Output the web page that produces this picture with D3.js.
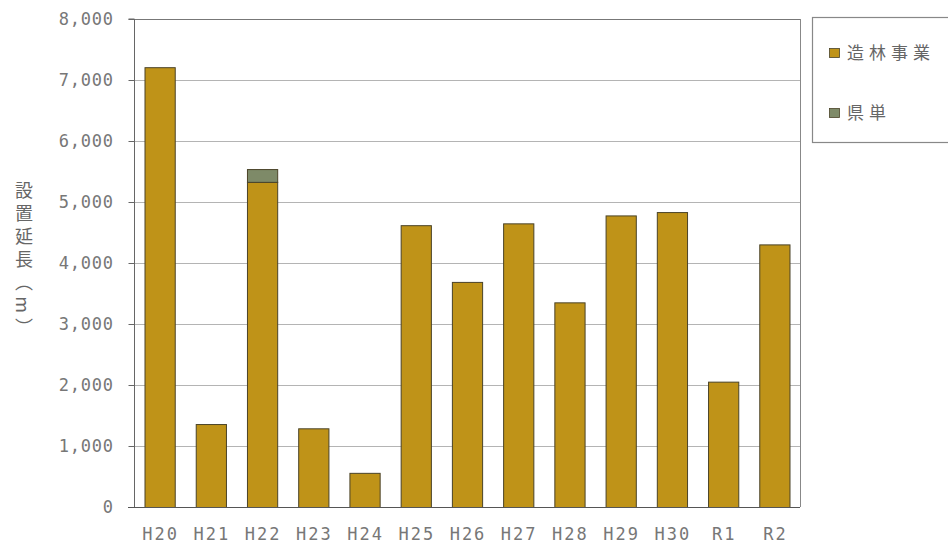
<!DOCTYPE html>
<html>
<head>
<meta charset="utf-8">
<script src="https://cdn.jsdelivr.net/npm/d3@7"></script>
<style>
  html, body { margin: 0; padding: 0; background: #fff; }
  svg { display: block; font-family: "Noto Sans CJK JP", "Noto Sans", sans-serif; }
</style>
</head>
<body>
<svg id="chart" width="948" height="550"></svg>
<script>
// Fiscal years
const years = ["H20", "H21", "H22", "H23", "H24", "H25", "H26", "H27", "H28", "H29", "H30", "R1", "R2"];
// 造林事業 (m)
const zorin = [7210, 1360, 5330, 1290, 560, 4620, 3690, 4650, 3355, 4780, 4835, 2055, 4305];
// 県単 (m)
const kentan = [0, 0, 210, 0, 0, 0, 0, 0, 0, 0, 0, 0, 0];
const seriesNames = ["造林事業", "県単"];
const seriesColors = ["#BF9318", "#7E8A68"];
const yTicks = [0, 1000, 2000, 3000, 4000, 5000, 6000, 7000, 8000];

const svg = d3.select("#chart");
const plot = { left: 134, right: 800, top: 19, bottom: 507 };
const monoFont = "'DejaVu Sans Mono', 'Liberation Mono', monospace";

const x = d3.scaleBand().domain(years).range([plot.left, plot.right]).paddingInner(0.41).paddingOuter(0.205);
const y = d3.scaleLinear().domain([0, 8000]).range([plot.bottom, plot.top]);

// horizontal gridlines
svg.append("g").selectAll("line").data(yTicks.slice(1)).join("line")
  .attr("x1", plot.left).attr("x2", plot.right)
  .attr("y1", d => y(d) + 0.5).attr("y2", d => y(d) + 0.5)
  .attr("stroke", d => d === 8000 ? "#777" : "#b4b4b4").attr("stroke-width", 1);

// right border of plot area
svg.append("line").attr("x1", plot.right + 0.5).attr("x2", plot.right + 0.5)
  .attr("y1", plot.top).attr("y2", plot.bottom).attr("stroke", "#888");

// stacked bars
const stackData = years.map((yr, i) => ({ yr, s0: zorin[i], s1: kentan[i] }));
const stack = d3.stack().keys(["s0", "s1"])(stackData);

svg.append("g").selectAll("g").data(stack).join("g")
  .attr("fill", (d, i) => seriesColors[i])
  .selectAll("rect").data(d => d.filter(p => p[1] - p[0] > 0)).join("rect")
  .attr("x", d => x(d.data.yr) + 0.5)
  .attr("y", d => y(d[1]) + 0.5)
  .attr("width", x.bandwidth())
  .attr("height", d => y(d[0]) - y(d[1]))
  .attr("stroke", "#4a4328").attr("stroke-width", 1);

// y axis
const yAxis = svg.append("g").attr("transform", `translate(${plot.left + 0.5},0)`)
  .call(d3.axisLeft(y).tickValues(yTicks).tickFormat(d3.format(",")).tickSize(6).tickPadding(14.7));
yAxis.select(".domain").attr("stroke", "#666").attr("d", `M-6,${plot.top}H0V${plot.bottom}`);
yAxis.selectAll(".tick line").attr("stroke", "#666");
yAxis.selectAll(".tick text").attr("fill", "#777").attr("font-size", 17)
  .attr("font-family", monoFont).attr("letter-spacing", 0.8);

// x axis
const xAxis = svg.append("g").attr("transform", `translate(0,${plot.bottom + 0.5})`)
  .call(d3.axisBottom(x).tickSize(0).tickPadding(20));
xAxis.select(".domain").attr("stroke", "#555").attr("d", `M${plot.left - 6},0H${plot.right}`);
xAxis.selectAll(".tick text").attr("fill", "#777").attr("font-size", 17)
  .attr("font-family", monoFont).attr("letter-spacing", 2).attr("dx", 1);

// y axis title, set vertically
svg.append("text")
  .attr("x", 24).attr("y", 261)
  .attr("text-anchor", "middle")
  .style("writing-mode", "vertical-rl")
  .attr("fill", "#666").attr("font-size", 18)
  .attr("letter-spacing", 5)
  .text("設置延長（m）");

// legend
const lg = svg.append("g");
lg.append("rect").attr("x", 812.5).attr("y", 17.5).attr("width", 150).attr("height", 125)
  .attr("fill", "#fff").attr("stroke", "#888").attr("stroke-width", 1.2);
seriesNames.forEach((name, i) => {
  const cy = 53 + i * 60;
  lg.append("rect").attr("x", 829.5).attr("y", cy - 4.5).attr("width", 10).attr("height", 9)
    .attr("fill", seriesColors[i]).attr("stroke", "#4a4328").attr("stroke-width", 0.8);
  lg.append("text").attr("x", 847).attr("y", cy + 6)
    .attr("fill", "#666").attr("font-size", 17).attr("letter-spacing", 5).text(name);
});
</script>
</body>
</html>
